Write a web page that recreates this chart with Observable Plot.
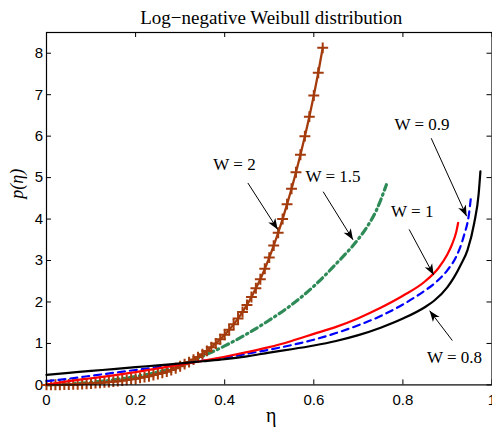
<!DOCTYPE html>
<html>
<head>
<meta charset="utf-8">
<script src="https://cdn.jsdelivr.net/npm/d3@7"></script>
<script src="https://cdn.jsdelivr.net/npm/@observablehq/plot@0.6"></script>
<style>
  html, body { margin: 0; padding: 0; background: #fff; }
  #chart { width: 492px; height: 430px; overflow: hidden; }
</style>
</head>
<body>
<div id="chart"></div>
<script>
// ---- Data ----
const titleText = "Log\u2212negative Weibull distribution";
const xLabel = "\u03b7";
const yLabel = "p(\u03b7)";
const xTicks = [0, 0.2, 0.4, 0.6, 0.8, 1];
const yTicks = [0, 1, 2, 3, 4, 5, 6, 7, 8];

// W = 0.8 (black, solid)
const w08Eta = [0, 0.05, 0.10, 0.15, 0.20, 0.25, 0.30, 0.35, 0.40, 0.45, 0.50, 0.55, 0.60, 0.65, 0.70, 0.75, 0.80, 0.85, 0.87, 0.90, 0.915, 0.93, 0.945, 0.96, 0.97, 0.974];
const w08P   = [0.24, 0.29, 0.34, 0.38, 0.43, 0.47, 0.52, 0.57, 0.62, 0.69, 0.78, 0.86, 0.95, 1.06, 1.20, 1.38, 1.60, 1.88, 2.03, 2.36, 2.60, 2.90, 3.25, 3.90, 4.60, 5.15];

// W = 0.9 (blue, dashed)
const w09Eta = [0, 0.05, 0.10, 0.15, 0.20, 0.25, 0.30, 0.35, 0.40, 0.45, 0.50, 0.55, 0.60, 0.65, 0.70, 0.75, 0.80, 0.85, 0.87, 0.90, 0.92, 0.937, 0.948, 0.953];
const w09P   = [0.09, 0.15, 0.22, 0.29, 0.36, 0.43, 0.50, 0.58, 0.66, 0.75, 0.85, 0.96, 1.09, 1.25, 1.44, 1.66, 1.94, 2.28, 2.44, 2.77, 3.10, 3.60, 4.10, 4.55];

// W = 1 (red, solid)
const w1Eta = [0, 0.05, 0.10, 0.15, 0.20, 0.25, 0.30, 0.35, 0.40, 0.45, 0.50, 0.55, 0.60, 0.65, 0.70, 0.75, 0.80, 0.85, 0.88, 0.90, 0.91, 0.92, 0.924];
const w1P   = [0.01, 0.09, 0.16, 0.23, 0.31, 0.40, 0.49, 0.58, 0.68, 0.79, 0.91, 1.06, 1.23, 1.40, 1.61, 1.86, 2.15, 2.50, 2.82, 3.15, 3.38, 3.70, 3.91];

// W = 1.5 (green, dash-dot)
const w15Eta = [0, 0.05, 0.10, 0.15, 0.20, 0.25, 0.30, 0.35, 0.40, 0.45, 0.50, 0.55, 0.60, 0.65, 0.70, 0.72, 0.74, 0.763];
const w15P   = [0, 0.02, 0.06, 0.12, 0.20, 0.31, 0.47, 0.69, 0.94, 1.23, 1.56, 1.93, 2.38, 2.92, 3.52, 3.82, 4.20, 4.83];

// W = 2 (brown, solid with + markers every 0.01)
const w2Eta = [0, 0.01, 0.02, 0.03, 0.04, 0.05, 0.06, 0.07, 0.08, 0.09, 0.10, 0.11, 0.12, 0.13, 0.14, 0.15, 0.16, 0.17, 0.18, 0.19, 0.20, 0.21, 0.22, 0.23, 0.24, 0.25, 0.26, 0.27, 0.28, 0.29, 0.30, 0.31, 0.32, 0.33, 0.34, 0.35, 0.36, 0.37, 0.38, 0.39, 0.40, 0.41, 0.42, 0.43, 0.44, 0.45, 0.46, 0.47, 0.48, 0.49, 0.50, 0.51, 0.52, 0.53, 0.54, 0.55, 0.56, 0.57, 0.58, 0.59, 0.60, 0.61, 0.62];
const w2P   = [0, 0.001, 0.002, 0.003, 0.006, 0.009, 0.012, 0.017, 0.022, 0.028, 0.035, 0.042, 0.05, 0.06, 0.07, 0.08, 0.09, 0.105, 0.12, 0.135, 0.15, 0.17, 0.19, 0.21, 0.24, 0.26, 0.29, 0.32, 0.36, 0.40, 0.45, 0.50, 0.55, 0.61, 0.67, 0.74, 0.82, 0.91, 1.00, 1.10, 1.21, 1.33, 1.46, 1.60, 1.76, 1.93, 2.12, 2.33, 2.55, 2.80, 3.07, 3.36, 3.67, 4.00, 4.36, 4.73, 5.13, 5.55, 6.00, 6.47, 6.98, 7.53, 8.13];

// annotations: label text, label centre, arrow tail, arrow tip
const annText  = ["W = 2", "W = 1.5", "W = 1", "W = 0.9", "W = 0.8"];
const annX     = [0.422, 0.643, 0.821, 0.843, 0.916];
const annY     = [5.31, 5.03, 4.19, 6.28, 0.67];
const tailX    = [0.452, 0.621, 0.814, 0.8635, 0.911];
const tailY    = [4.87, 4.66, 3.75, 5.95, 1.07];
const tipX     = [0.519, 0.688, 0.869, 0.943, 0.860];
const tipY     = [3.75, 3.50, 2.65, 4.07, 1.79];

// ---- Layout ----
const W = 492, H = 430;
const mL = 46, mR = 0.5, mT = 32, mB = 45.6;
const xDom = [0, 1], yDom = [0, 8.5];
const kx = (W - mL - mR) / (xDom[1] - xDom[0]);
const ky = (H - mT - mB) / (yDom[1] - yDom[0]);
const tickPx = 5;
const tX = tickPx / kx, tY = tickPx / ky;

const zip = (xs, ys) => xs.map((x, i) => ({x, y: ys[i]}));
const s08 = zip(w08Eta, w08P), s09 = zip(w09Eta, w09P), s1 = zip(w1Eta, w1P), s15 = zip(w15Eta, w15P), s2 = zip(w2Eta, w2P);
const ann = annText.map((t, i) => ({
  t, lx: annX[i], ly: annY[i], x1: tailX[i], y1: tailY[i], x2: tipX[i], y2: tipY[i],
  rot: Math.atan2((tipX[i] - tailX[i]) * kx, (tipY[i] - tailY[i]) * ky) * 180 / Math.PI
}));

// filled, notched arrowhead with tip at origin pointing up
const arrowHead = {
  draw(ctx) {
    ctx.moveTo(0, 0);
    ctx.lineTo(4.2, 11);
    ctx.lineTo(0, 8);
    ctx.lineTo(-4.2, 11);
    ctx.closePath();
  }
};

const serif = "'Liberation Serif', 'Times New Roman', serif";
const brown = "#a33b0c", green = "#2e8b57";

const chart = Plot.plot({
  width: W, height: H,
  marginLeft: mL, marginRight: mR, marginTop: mT, marginBottom: mB,
  style: {fontFamily: "'Liberation Sans', Arial, sans-serif", fontSize: "15px", background: "#fff", color: "#000", overflow: "visible"},
  x: {domain: xDom, ticks: xTicks, tickFormat: d => String(d)},
  y: {domain: yDom, ticks: yTicks},
  marks: [
    Plot.axisX({ticks: xTicks, tickSize: 0, tickPadding: 9, label: null, tickFormat: d => String(d)}),
    Plot.axisY({ticks: yTicks, tickSize: 0, tickPadding: 3.5, label: null}),
    // inward tick marks on all four sides
    Plot.ruleX(xTicks, {x: d => d, y1: yDom[0], y2: yDom[0] + tY, stroke: "#000"}),
    Plot.ruleX(xTicks, {x: d => d, y1: yDom[1] - tY, y2: yDom[1], stroke: "#000"}),
    Plot.ruleY(yTicks, {y: d => d, x1: xDom[0], x2: xDom[0] + tX, stroke: "#000"}),
    Plot.ruleY(yTicks, {y: d => d, x1: xDom[1] - tX, x2: xDom[1], stroke: "#000"}),
    // curves
    Plot.line(s15, {x: "x", y: "y", stroke: green, strokeWidth: 3.2, strokeDasharray: "7,4,1.5,4", curve: "monotone-x"}),
    Plot.line(s2, {x: "x", y: "y", stroke: brown, strokeWidth: 2.3, curve: "monotone-x"}),
    Plot.dot(s2, {x: "x", y: "y", symbol: "plus", r: 3.6, stroke: brown, strokeWidth: 2}),
    Plot.line(s09, {x: "x", y: "y", stroke: "#0000ff", strokeWidth: 2.2, strokeDasharray: "7,5", curve: "monotone-x"}),
    Plot.line(s1, {x: "x", y: "y", stroke: "#ff0000", strokeWidth: 2.2, curve: "monotone-x"}),
    Plot.line(s08, {x: "x", y: "y", stroke: "#000", strokeWidth: 2.2, curve: "monotone-x"}),
    // frame
    Plot.frame({stroke: "#000", strokeWidth: 1.2}),
    // annotations
    Plot.link(ann, {x1: "x1", y1: "y1", x2: "x2", y2: "y2", stroke: "#000", strokeWidth: 1}),
    Plot.dot(ann, {x: "x2", y: "y2", symbol: arrowHead, rotate: "rot", fill: "#000", stroke: "none", r: 5}),
    Plot.text(ann, {x: "lx", y: "ly", text: "t", fontFamily: serif, fontSize: 17, fill: "#000"}),
    // title and axis labels
    Plot.text([titleText], {frameAnchor: "top", dx: 2, dy: -22, fontFamily: serif, fontSize: 19, fill: "#000"}),
    Plot.text([xLabel], {frameAnchor: "bottom", dx: 2, dy: 37, fontFamily: serif, fontSize: 20, fill: "#000"}),
    Plot.text([yLabel], {frameAnchor: "left", dx: -29, dy: -10, rotate: -90, fontFamily: serif, fontStyle: "italic", fontSize: 18, fill: "#000"})
  ]
});
document.getElementById("chart").appendChild(chart);
</script>
</body>
</html>
